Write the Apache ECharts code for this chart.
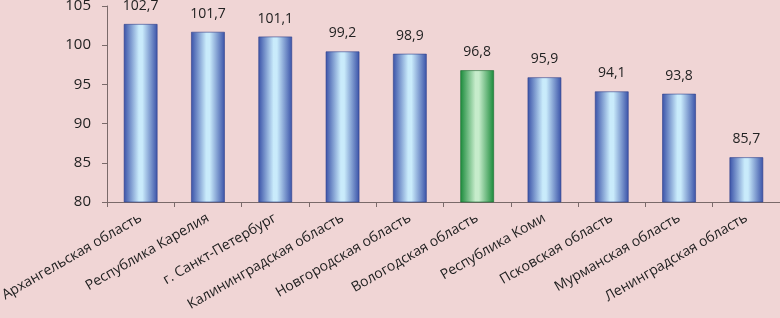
<!DOCTYPE html>
<html><head><meta charset="utf-8">
<script src="https://cdn.jsdelivr.net/npm/echarts@6/dist/echarts.min.js"></script>
<style>html,body{margin:0;padding:0;background:#f0d5d5;}#c{width:780px;height:318px;}</style>
</head><body><div id="c"></div>
<script>
var categories = ["Архангельская область","Республика Карелия","г. Санкт-Петербург","Калининградская область","Новгородская область","Вологодская область","Республика Коми","Псковская область","Мурманская область","Ленинградская область"];
var values = [102.7,101.7,101.1,99.2,98.9,96.8,95.9,94.1,93.8,85.7];
var highlightIndex = 5;

function grad(dark, light){
  return new echarts.graphic.LinearGradient(0,0,1,0,[
    {offset:0,color:dark},{offset:0.45,color:light},{offset:0.55,color:light},{offset:1,color:dark}
  ]);
}
var blue = grad('#3a52a8','#c9ebfb');
var green = grad('#1a8a3a','#c6eccb');

var chart = echarts.init(document.getElementById('c'));
chart.setOption({
  backgroundColor:'#f0d5d5',
  animation:false,
  grid:{left:107,right:0,top:6,bottom:116,containLabel:false,outerBoundsMode:'none'},
  xAxis:{type:'category',data:categories,
    axisLine:{lineStyle:{color:'#7a6a6a'}},
    axisTick:{show:true,alignWithLabel:false,length:5,lineStyle:{color:'#7a6a6a'}},
    axisLabel:{rotate:30,interval:0,color:'#222',fontSize:14,fontFamily:'Open Sans',margin:15}},
  yAxis:{type:'value',min:80,max:105,interval:5,
    axisLine:{show:true,lineStyle:{color:'#7a6a6a'}},
    axisTick:{show:true,length:5,lineStyle:{color:'#7a6a6a'}},
    splitLine:{show:false},
    axisLabel:{color:'#222',fontSize:15,fontFamily:'Open Sans',margin:16}},
  series:[{type:'bar',barWidth:'50%',
    data:values.map(function(v,i){return {value:v,itemStyle:{color:i===highlightIndex?green:blue,borderColor:i===highlightIndex?'#1a6a30':'#2f3f8a',borderWidth:0.6}};}),
    label:{show:true,position:'top',color:'#222',fontSize:14,fontFamily:'Open Sans',distance:11,
      formatter:function(p){return String(p.value).replace('.',',');}}
  }]
});
</script></body></html>
